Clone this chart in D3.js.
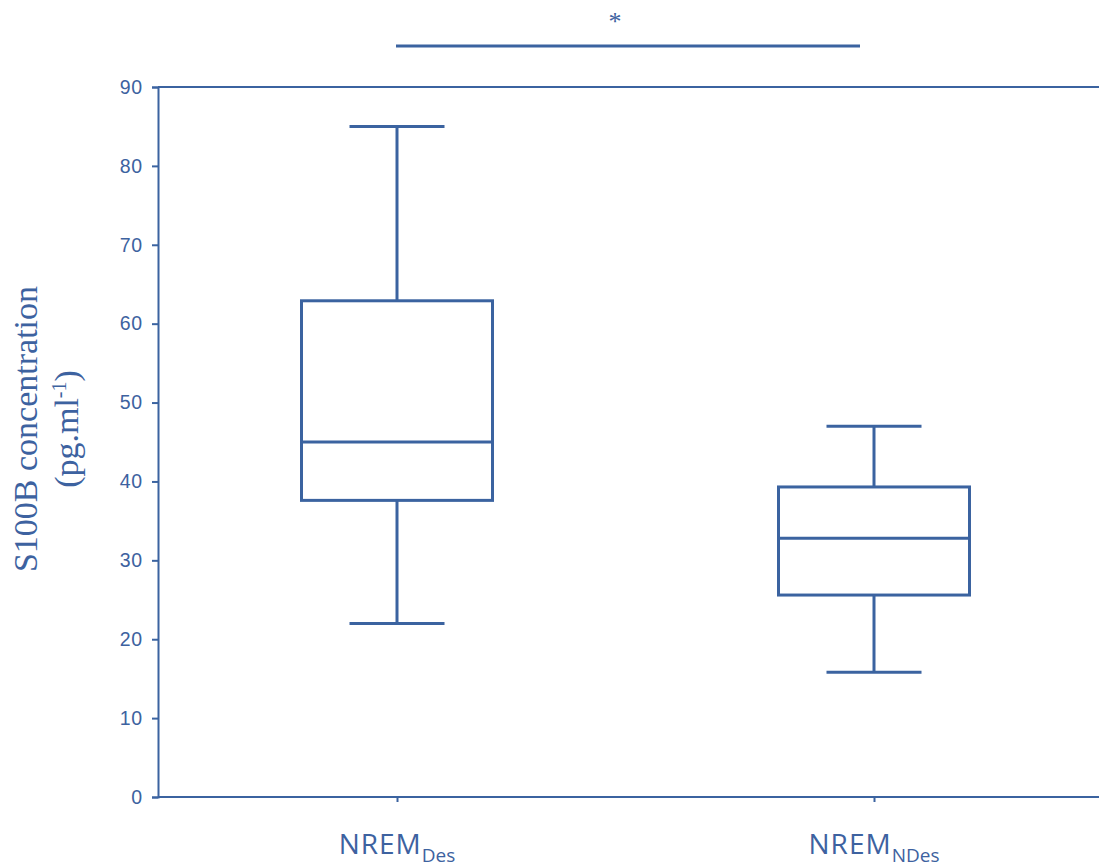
<!DOCTYPE html>
<html>
<head>
<meta charset="utf-8">
<script src="https://cdn.jsdelivr.net/npm/d3@7"></script>
<style>
  html, body { margin: 0; padding: 0; background: #fff; }
  svg { display: block; }
</style>
</head>
<body>
<svg id="chart" width="1099" height="868"></svg>
<script>
// Groups and their five-number summaries (S100B, pg/ml)
const groups = ["Des", "NDes"];
const whiskerLow = [22, 15.8];
const quartile1 = [37.6, 25.6];
const medians = [45, 32.8];
const quartile3 = [62.9, 39.3];
const whiskerHigh = [85, 47];
const yTicks = [0, 10, 20, 30, 40, 50, 60, 70, 80, 90];

const blue = "#3b63a0";
const textBlue = "#3d62a0";

const svg = d3.select("#chart");
const plotLeft = 158, plotRight = 1099, plotTop = 87, plotBottom = 797;

const y = d3.scaleLinear().domain([0, 90]).range([plotBottom, plotTop]);
const x = d3.scalePoint().domain(groups).range([397, 874]);

// Left axis
const yAxis = svg.append("g")
  .attr("transform", `translate(${plotLeft},0)`)
  .call(d3.axisLeft(y).tickValues(yTicks).tickSize(6).tickPadding(9));
yAxis.select(".domain").attr("stroke", blue).attr("stroke-width", 2);
yAxis.selectAll(".tick line").attr("stroke", blue).attr("stroke-width", 2);
yAxis.selectAll(".tick text")
  .attr("fill", textBlue)
  .style("font-family", "Liberation Sans, Arial, sans-serif")
  .style("font-size", "19.5px")
  .style("letter-spacing", "0.8px");

// Bottom axis, spanning to the right edge
const xAxis = svg.append("g")
  .attr("transform", `translate(0,${plotBottom})`)
  .call(d3.axisBottom(x).tickSize(5).tickFormat(""));
xAxis.select(".domain").remove();
xAxis.selectAll(".tick line").attr("stroke", blue).attr("stroke-width", 2);
svg.append("line")
  .attr("x1", plotLeft).attr("x2", plotRight).attr("y1", plotBottom).attr("y2", plotBottom)
  .attr("stroke", blue).attr("stroke-width", 2);

// Top frame line
svg.append("line")
  .attr("x1", plotLeft).attr("x2", plotRight).attr("y1", y(90)).attr("y2", y(90))
  .attr("stroke", blue).attr("stroke-width", 2);

// Category labels with subscripts
groups.forEach(g => {
  const t = svg.append("text")
    .attr("x", x(g)).attr("y", 854)
    .attr("text-anchor", "middle")
    .attr("fill", textBlue)
    .style("font-family", "Open Sans, Noto Sans, sans-serif")
    .style("font-size", "28px");
  t.append("tspan").style("letter-spacing", "1px").text("NREM");
  t.append("tspan").attr("dy", 8).style("font-size", "19px").text(g);
});

// Boxes
const boxW = 191, capW = 95;
const data = groups.map((g, i) => ({
  g, lo: whiskerLow[i], q1: quartile1[i], med: medians[i], q3: quartile3[i], hi: whiskerHigh[i]
}));
const box = svg.append("g").selectAll("g").data(data).join("g")
  .attr("fill", "none").attr("stroke", blue).attr("stroke-width", 3);

box.append("line")
  .attr("x1", d => x(d.g)).attr("x2", d => x(d.g))
  .attr("y1", d => y(d.hi)).attr("y2", d => y(d.q3));
box.append("line")
  .attr("x1", d => x(d.g)).attr("x2", d => x(d.g))
  .attr("y1", d => y(d.q1)).attr("y2", d => y(d.lo));
box.append("line")
  .attr("x1", d => x(d.g) - capW / 2).attr("x2", d => x(d.g) + capW / 2)
  .attr("y1", d => y(d.hi)).attr("y2", d => y(d.hi));
box.append("line")
  .attr("x1", d => x(d.g) - capW / 2).attr("x2", d => x(d.g) + capW / 2)
  .attr("y1", d => y(d.lo)).attr("y2", d => y(d.lo));
box.append("rect")
  .attr("x", d => x(d.g) - boxW / 2).attr("width", boxW)
  .attr("y", d => y(d.q3)).attr("height", d => y(d.q1) - y(d.q3));
box.append("line")
  .attr("x1", d => x(d.g) - boxW / 2).attr("x2", d => x(d.g) + boxW / 2)
  .attr("y1", d => y(d.med)).attr("y2", d => y(d.med));

// Significance bracket
svg.append("line")
  .attr("x1", 396).attr("x2", 860).attr("y1", 46).attr("y2", 46)
  .attr("stroke", blue).attr("stroke-width", 3);
svg.append("text")
  .attr("x", 615).attr("y", 30)
  .attr("text-anchor", "middle")
  .attr("fill", textBlue)
  .style("font-family", "Liberation Serif, serif")
  .style("font-size", "26px")
  .text("*");

// Y axis title
const yt = svg.append("text")
  .attr("transform", "translate(0,429) rotate(-90)")
  .attr("text-anchor", "middle")
  .attr("fill", textBlue)
  .style("font-family", "Liberation Serif, serif")
  .style("font-size", "34px");
yt.append("tspan").attr("x", 0).attr("y", 37).text("S100B concentration");
const l2 = yt.append("tspan").attr("x", 0).attr("y", 78);
l2.append("tspan").text("(pg.ml");
l2.append("tspan").attr("dy", -12).style("font-size", "20px").text("-1");
l2.append("tspan").attr("dy", 12).text(")");
</script>
</body>
</html>
